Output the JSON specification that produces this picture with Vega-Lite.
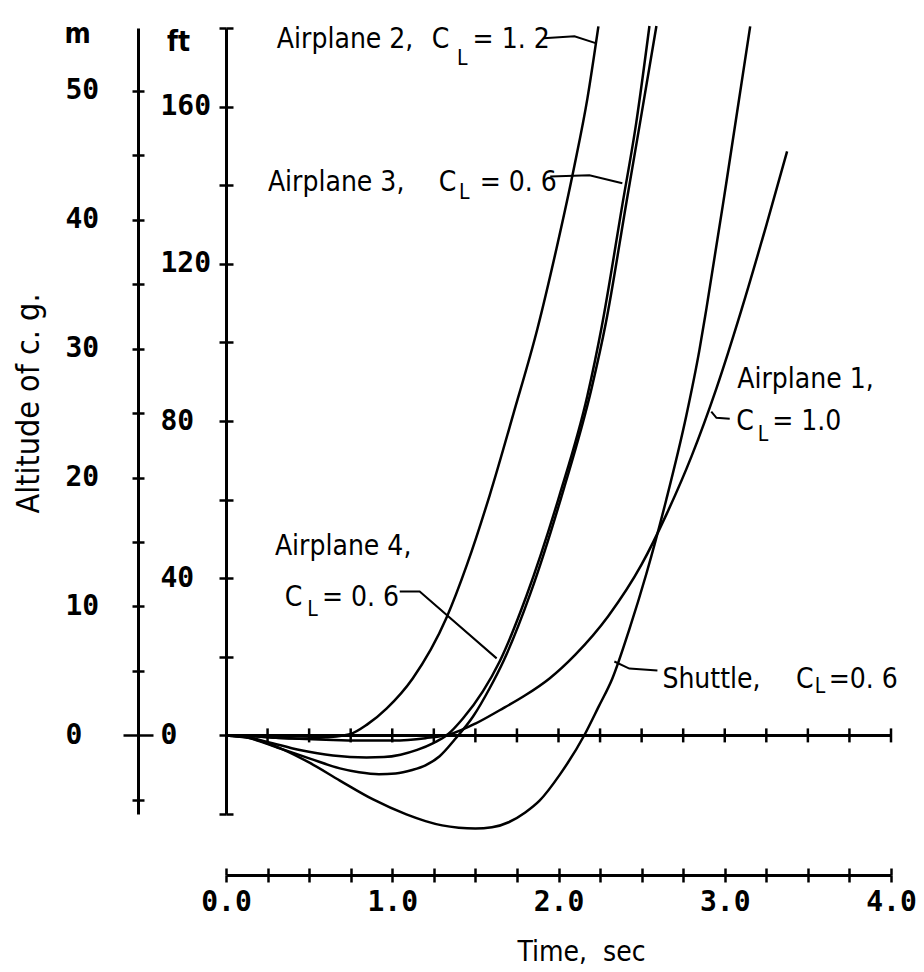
{
  "$schema": "https://vega.github.io/schema/vega-lite/v6.json",
  "width": 665,
  "height": 786,
  "autosize": {"type": "none"},
  "padding": {"left": 226, "top": 28, "right": 33, "bottom": 158},
  "background": "white",
  "config": {
    "view": {"stroke": null},
    "axis": {"grid": false, "domainColor": "black", "tickColor": "black", "labelColor": "black", "titleColor": "black"}
  },
  "resolve": {"scale": {"y": "independent"}, "axis": {"x": "independent", "y": "independent"}},
  "layer": [
    {
      "data": {"values": [
        {"s": "Airplane 2", "t": 0, "ft": 0}, {"s": "Airplane 2", "t": 0.15, "ft": -0.2}, {"s": "Airplane 2", "t": 0.3, "ft": -0.6}, {"s": "Airplane 2", "t": 0.45, "ft": -0.8}, {"s": "Airplane 2", "t": 0.6, "ft": -0.5}, {"s": "Airplane 2", "t": 0.745, "ft": 0.3}, {"s": "Airplane 2", "t": 0.85, "ft": 2.8}, {"s": "Airplane 2", "t": 0.967, "ft": 6.9}, {"s": "Airplane 2", "t": 1.123, "ft": 14.5}, {"s": "Airplane 2", "t": 1.327, "ft": 30.0}, {"s": "Airplane 2", "t": 1.45, "ft": 43.5}, {"s": "Airplane 2", "t": 1.586, "ft": 61.1}, {"s": "Airplane 2", "t": 1.73, "ft": 82.0}, {"s": "Airplane 2", "t": 1.874, "ft": 103.6}, {"s": "Airplane 2", "t": 1.988, "ft": 123.9}, {"s": "Airplane 2", "t": 2.096, "ft": 145.0}, {"s": "Airplane 2", "t": 2.174, "ft": 162.1}, {"s": "Airplane 2", "t": 2.24, "ft": 180.4},
        {"s": "Airplane 3", "t": 0, "ft": 0}, {"s": "Airplane 3", "t": 0.12, "ft": -0.4}, {"s": "Airplane 3", "t": 0.245, "ft": -1.6}, {"s": "Airplane 3", "t": 0.444, "ft": -3.7}, {"s": "Airplane 3", "t": 0.643, "ft": -5.1}, {"s": "Airplane 3", "t": 0.845, "ft": -5.6}, {"s": "Airplane 3", "t": 0.95, "ft": -5.5}, {"s": "Airplane 3", "t": 1.05, "ft": -4.9}, {"s": "Airplane 3", "t": 1.15, "ft": -3.7}, {"s": "Airplane 3", "t": 1.25, "ft": -1.9}, {"s": "Airplane 3", "t": 1.33, "ft": 0.1}, {"s": "Airplane 3", "t": 1.425, "ft": 4.3}, {"s": "Airplane 3", "t": 1.545, "ft": 11.2}, {"s": "Airplane 3", "t": 1.646, "ft": 18.8}, {"s": "Airplane 3", "t": 1.808, "ft": 35.6}, {"s": "Airplane 3", "t": 2.006, "ft": 61.1}, {"s": "Airplane 3", "t": 2.174, "ft": 86.5}, {"s": "Airplane 3", "t": 2.26, "ft": 104.0}, {"s": "Airplane 3", "t": 2.384, "ft": 135.0}, {"s": "Airplane 3", "t": 2.468, "ft": 156.0}, {"s": "Airplane 3", "t": 2.547, "ft": 180.5},
        {"s": "Airplane 4", "t": 0, "ft": 0}, {"s": "Airplane 4", "t": 0.12, "ft": -0.5}, {"s": "Airplane 4", "t": 0.324, "ft": -3.3}, {"s": "Airplane 4", "t": 0.505, "ft": -5.9}, {"s": "Airplane 4", "t": 0.685, "ft": -8.4}, {"s": "Airplane 4", "t": 0.8, "ft": -9.4}, {"s": "Airplane 4", "t": 0.92, "ft": -9.9}, {"s": "Airplane 4", "t": 1.02, "ft": -9.7}, {"s": "Airplane 4", "t": 1.12, "ft": -8.8}, {"s": "Airplane 4", "t": 1.2, "ft": -7.6}, {"s": "Airplane 4", "t": 1.285, "ft": -5.3}, {"s": "Airplane 4", "t": 1.385, "ft": -0.6}, {"s": "Airplane 4", "t": 1.486, "ft": 4.8}, {"s": "Airplane 4", "t": 1.586, "ft": 12.0}, {"s": "Airplane 4", "t": 1.67, "ft": 19.0}, {"s": "Airplane 4", "t": 1.83, "ft": 36.0}, {"s": "Airplane 4", "t": 2.03, "ft": 62.5}, {"s": "Airplane 4", "t": 2.2, "ft": 88.5}, {"s": "Airplane 4", "t": 2.285, "ft": 105.0}, {"s": "Airplane 4", "t": 2.41, "ft": 136.0}, {"s": "Airplane 4", "t": 2.495, "ft": 157.0}, {"s": "Airplane 4", "t": 2.589, "ft": 180.5},
        {"s": "Shuttle", "t": 0, "ft": 0}, {"s": "Shuttle", "t": 0.12, "ft": -0.5}, {"s": "Shuttle", "t": 0.344, "ft": -3.6}, {"s": "Shuttle", "t": 0.505, "ft": -7.0}, {"s": "Shuttle", "t": 0.685, "ft": -11.5}, {"s": "Shuttle", "t": 0.885, "ft": -16.3}, {"s": "Shuttle", "t": 1.085, "ft": -20.1}, {"s": "Shuttle", "t": 1.2, "ft": -21.8}, {"s": "Shuttle", "t": 1.3, "ft": -22.9}, {"s": "Shuttle", "t": 1.4, "ft": -23.5}, {"s": "Shuttle", "t": 1.5, "ft": -23.7}, {"s": "Shuttle", "t": 1.6, "ft": -23.4}, {"s": "Shuttle", "t": 1.7, "ft": -22.1}, {"s": "Shuttle", "t": 1.8, "ft": -19.6}, {"s": "Shuttle", "t": 1.886, "ft": -16.6}, {"s": "Shuttle", "t": 2.006, "ft": -10.1}, {"s": "Shuttle", "t": 2.156, "ft": 0.1}, {"s": "Shuttle", "t": 2.24, "ft": 7.2}, {"s": "Shuttle", "t": 2.324, "ft": 14.5}, {"s": "Shuttle", "t": 2.426, "ft": 27.0}, {"s": "Shuttle", "t": 2.529, "ft": 41.2}, {"s": "Shuttle", "t": 2.649, "ft": 60.1}, {"s": "Shuttle", "t": 2.769, "ft": 81.4}, {"s": "Shuttle", "t": 2.847, "ft": 97.9}, {"s": "Shuttle", "t": 2.889, "ft": 108.4}, {"s": "Shuttle", "t": 3.009, "ft": 140.5}, {"s": "Shuttle", "t": 3.153, "ft": 180.4},
        {"s": "Airplane 1", "t": 0, "ft": 0}, {"s": "Airplane 1", "t": 0.15, "ft": -0.2}, {"s": "Airplane 1", "t": 0.4, "ft": -0.8}, {"s": "Airplane 1", "t": 0.6, "ft": -1.1}, {"s": "Airplane 1", "t": 0.8, "ft": -1.3}, {"s": "Airplane 1", "t": 1.0, "ft": -1.3}, {"s": "Airplane 1", "t": 1.2, "ft": -0.7}, {"s": "Airplane 1", "t": 1.363, "ft": 0.5}, {"s": "Airplane 1", "t": 1.5, "ft": 3.0}, {"s": "Airplane 1", "t": 1.646, "ft": 6.4}, {"s": "Airplane 1", "t": 1.8, "ft": 10.2}, {"s": "Airplane 1", "t": 1.946, "ft": 14.5}, {"s": "Airplane 1", "t": 2.1, "ft": 20.5}, {"s": "Airplane 1", "t": 2.3, "ft": 30.4}, {"s": "Airplane 1", "t": 2.5, "ft": 43.5}, {"s": "Airplane 1", "t": 2.65, "ft": 56.3}, {"s": "Airplane 1", "t": 2.8, "ft": 71.0}, {"s": "Airplane 1", "t": 2.95, "ft": 88.3}, {"s": "Airplane 1", "t": 3.1, "ft": 108.2}, {"s": "Airplane 1", "t": 3.25, "ft": 129.8}, {"s": "Airplane 1", "t": 3.375, "ft": 148.6}
      ]},
      "mark": {"type": "line", "interpolate": "monotone", "color": "black", "strokeWidth": 2.5},
      "encoding": {
        "x": {"field": "t", "type": "quantitative", "scale": {"domain": [0, 4], "nice": false, "zero": false},
          "axis": {"orient": "bottom", "offset": 61, "values": [0, 0.25, 0.5, 0.75, 1, 1.25, 1.5, 1.75, 2, 2.25, 2.5, 2.75, 3, 3.25, 3.5, 3.75, 4],
            "tickSize": 7, "tickWidth": 2.5, "domainWidth": 3,
            "labelExpr": "datum.value % 1 == 0 ? format(datum.value, '.1f') : ''",
            "labelFont": "DejaVu Sans Mono", "labelFontWeight": "bold", "labelFontSize": 28, "labelPadding": 6, "labelBaseline": "top",
            "labelOverlap": false, "labelFlush": false, "labelBound": false,
            "title": "Time,\u00a0 sec", "titleFont": "DejaVu Sans Condensed, sans-serif", "titleFontSize": 28, "titleFontWeight": "normal",
            "titleX": 355, "titleY": 85, "titleAlign": "center", "titleBaseline": "alphabetic"}},
        "y": {"field": "ft", "type": "quantitative", "scale": {"domain": [-20, 180], "nice": false, "zero": false},
          "axis": {"orient": "left", "offset": 0, "values": [-20, 0, 20, 40, 60, 80, 100, 120, 140, 160, 180],
            "tickSize": 7, "tickWidth": 2.5, "domainWidth": 3,
            "labelExpr": "(datum.value % 40 == 0 && datum.value >= 0 && datum.value <= 160) ? datum.label : ''",
            "labelFont": "DejaVu Sans Mono", "labelFontWeight": "bold", "labelFontSize": 28, "labelAlign": "left", "labelBaseline": "middle", "labelPadding": 59,
            "labelOverlap": false, "labelFlush": false, "labelBound": false,
            "title": "ft", "titleAngle": 0, "titleX": -48, "titleY": 22, "titleAlign": "center", "titleBaseline": "alphabetic",
            "titleFont": "DejaVu Sans Condensed, sans-serif", "titleFontSize": 28, "titleFontWeight": "bold"}},
        "detail": {"field": "s", "type": "nominal"}
      }
    },
    {
      "data": {"values": [{"t0": 0, "t1": 4, "ft": 0}]},
      "mark": {"type": "rule", "color": "black", "strokeWidth": 3},
      "encoding": {
        "x": {"field": "t0", "type": "quantitative", "scale": {"domain": [0, 4], "nice": false, "zero": false},
          "axis": {"orient": "bottom", "offset": 61, "values": [0, 0.25, 0.5, 0.75, 1, 1.25, 1.5, 1.75, 2, 2.25, 2.5, 2.75, 3, 3.25, 3.5, 3.75, 4],
            "tickSize": -7, "tickWidth": 2.5, "labels": false, "domain": false, "title": null}},
        "x2": {"field": "t1"},
        "y": {"field": "ft", "type": "quantitative", "scale": {"domain": [-20, 180], "nice": false, "zero": false},
          "axis": {"orient": "left", "offset": 0, "values": [-20, 0, 20, 40, 60, 80, 100, 120, 140, 160, 180],
            "tickSize": -7, "tickWidth": 2.5, "labels": false, "domain": false, "title": null}}
      }
    },
    {
      "data": {"values": [
        {"t": 0.25, "ft": 0}, {"t": 0.5, "ft": 0}, {"t": 0.75, "ft": 0}, {"t": 1, "ft": 0}, {"t": 1.25, "ft": 0}, {"t": 1.5, "ft": 0}, {"t": 1.75, "ft": 0}, {"t": 2, "ft": 0},
        {"t": 2.25, "ft": 0}, {"t": 2.5, "ft": 0}, {"t": 2.75, "ft": 0}, {"t": 3, "ft": 0}, {"t": 3.25, "ft": 0}, {"t": 3.5, "ft": 0}, {"t": 3.75, "ft": 0}, {"t": 4, "ft": 0}
      ]},
      "mark": {"type": "tick", "orient": "vertical", "color": "black", "size": 14, "thickness": 2.5, "opacity": 1},
      "encoding": {
        "x": {"field": "t", "type": "quantitative", "scale": {"domain": [0, 4], "nice": false, "zero": false}, "axis": null},
        "y": {"field": "ft", "type": "quantitative", "scale": {"domain": [-20, 180], "nice": false, "zero": false}, "axis": null}
      }
    },
    {
      "data": {"values": [{"m": -5}, {"m": 50}]},
      "mark": {"type": "point", "opacity": 0},
      "encoding": {
        "y": {"field": "m", "type": "quantitative", "scale": {"domain": [-6.096, 54.864], "nice": false, "zero": false},
          "axis": {"orient": "left", "offset": 88, "values": [0, 10, 20, 30, 40, 50], "ticks": false, "domainWidth": 3,
            "labelFont": "DejaVu Sans Mono", "labelFontWeight": "bold", "labelFontSize": 28, "labelAlign": "left", "labelBaseline": "middle", "labelPadding": 73,
            "labelOverlap": false, "labelFlush": false, "labelBound": false, "title": null}}
      }
    },
    {
      "data": {"values": [{"m": -5}, {"m": 50}]},
      "mark": {"type": "point", "opacity": 0},
      "encoding": {
        "y": {"field": "m", "type": "quantitative", "scale": {"domain": [-6.096, 54.864], "nice": false, "zero": false},
          "axis": {"orient": "left", "offset": 88, "values": [-5, 0, 5, 10, 15, 20, 25, 30, 35, 40, 45, 50],
            "tickSize": {"condition": {"test": "datum.value == 0", "value": 15}, "value": 6}, "tickWidth": 2.5,
            "labels": false, "domain": false,
            "title": "m", "titleAngle": 0, "titleX": -61, "titleY": 14, "titleAlign": "center", "titleBaseline": "alphabetic",
            "titleFont": "DejaVu Sans Condensed, sans-serif", "titleFontSize": 28, "titleFontWeight": "bold"}}
      }
    },
    {
      "data": {"values": [{"m": -5}, {"m": 50}]},
      "mark": {"type": "point", "opacity": 0},
      "encoding": {
        "y": {"field": "m", "type": "quantitative", "scale": {"domain": [-6.096, 54.864], "nice": false, "zero": false},
          "axis": {"orient": "left", "offset": 88, "values": [-5, 0, 5, 10, 15, 20, 25, 30, 35, 40, 45, 50],
            "tickSize": {"condition": {"test": "datum.value == 0", "value": -15}, "value": -6}, "tickWidth": 2.5,
            "labels": false, "domain": false,
            "title": "Altitude of c. g.", "titleAngle": -90, "titleX": -100, "titleY": 375, "titleAlign": "center", "titleBaseline": "alphabetic",
            "titleFont": "DejaVu Sans Condensed, sans-serif", "titleFontSize": 32, "titleFontWeight": "normal"}}
      }
    },
    {
      "data": {"values": [
        {"t": 0.306, "ft": 174.8, "txt": "Airplane 2,"}, {"t": 1.237, "ft": 174.8, "txt": "C"}, {"t": 1.483, "ft": 174.8, "txt": "= 1. 2"},
        {"t": 0.252, "ft": 138.4, "txt": "Airplane 3,"}, {"t": 1.279, "ft": 138.4, "txt": "C"}, {"t": 1.526, "ft": 138.4, "txt": "= 0. 6"},
        {"t": 3.075, "ft": 88.3, "txt": "Airplane 1,"}, {"t": 3.069, "ft": 77.6, "txt": "C"}, {"t": 3.285, "ft": 77.6, "txt": "= 1.0"},
        {"t": 0.294, "ft": 45.8, "txt": "Airplane 4,"}, {"t": 0.354, "ft": 32.8, "txt": "C"}, {"t": 0.577, "ft": 32.8, "txt": "= 0. 6"},
        {"t": 2.625, "ft": 12.0, "txt": "Shuttle,"}, {"t": 3.429, "ft": 12.0, "txt": "C"}, {"t": 3.625, "ft": 12.0, "txt": "=0. 6"}
      ]},
      "mark": {"type": "text", "align": "left", "baseline": "alphabetic", "font": "DejaVu Sans Condensed, sans-serif", "fontSize": 28, "color": "black"},
      "encoding": {
        "x": {"field": "t", "type": "quantitative", "scale": {"domain": [0, 4], "nice": false, "zero": false}, "axis": null},
        "y": {"field": "ft", "type": "quantitative", "scale": {"domain": [-20, 180], "nice": false, "zero": false}, "axis": null},
        "text": {"field": "txt", "type": "nominal"}
      }
    },
    {
      "data": {"values": [
        {"t": 1.39, "ft": 170.5, "txt": "L"}, {"t": 1.402, "ft": 136.6, "txt": "L"}, {"t": 3.198, "ft": 74.8, "txt": "L"}, {"t": 0.489, "ft": 30.5, "txt": "L"}, {"t": 3.541, "ft": 10.7, "txt": "L"}
      ]},
      "mark": {"type": "text", "align": "left", "baseline": "alphabetic", "font": "DejaVu Sans Condensed, sans-serif", "fontSize": 21, "color": "black"},
      "encoding": {
        "x": {"field": "t", "type": "quantitative", "scale": {"domain": [0, 4], "nice": false, "zero": false}, "axis": null},
        "y": {"field": "ft", "type": "quantitative", "scale": {"domain": [-20, 180], "nice": false, "zero": false}, "axis": null},
        "text": {"field": "txt", "type": "nominal"}
      }
    },
    {
      "data": {"values": [
        {"id": "L2", "t": 1.91, "ft": 177.4}, {"id": "L2", "t": 2.096, "ft": 177.9}, {"id": "L2", "t": 2.228, "ft": 176.1},
        {"id": "L3", "t": 1.95, "ft": 142.2}, {"id": "L3", "t": 2.186, "ft": 142.5}, {"id": "L3", "t": 2.384, "ft": 140.5},
        {"id": "L1", "t": 2.919, "ft": 82.4}, {"id": "L1", "t": 2.95, "ft": 80.8}, {"id": "L1", "t": 3.03, "ft": 80.6},
        {"id": "L4", "t": 1.045, "ft": 36.6}, {"id": "L4", "t": 1.165, "ft": 36.6}, {"id": "L4", "t": 1.628, "ft": 19.6},
        {"id": "LS", "t": 2.336, "ft": 18.8}, {"id": "LS", "t": 2.426, "ft": 17.0}, {"id": "LS", "t": 2.595, "ft": 16.5}
      ]},
      "mark": {"type": "line", "color": "black", "strokeWidth": 2},
      "encoding": {
        "x": {"field": "t", "type": "quantitative", "scale": {"domain": [0, 4], "nice": false, "zero": false}, "axis": null},
        "y": {"field": "ft", "type": "quantitative", "scale": {"domain": [-20, 180], "nice": false, "zero": false}, "axis": null},
        "detail": {"field": "id", "type": "nominal"}
      }
    }
  ]
}
